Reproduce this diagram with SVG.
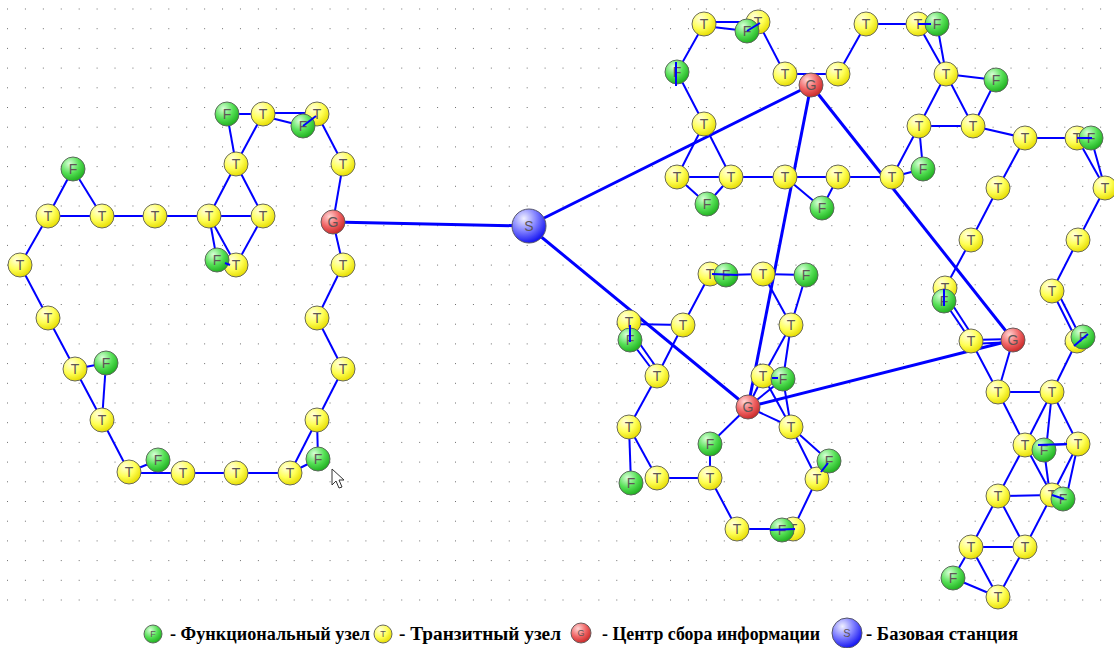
<svg xmlns="http://www.w3.org/2000/svg" width="1114" height="648" viewBox="0 0 1114 648">
<defs>
<pattern id="grid" x="7" y="8.5" width="17.92" height="19.7" patternUnits="userSpaceOnUse"><rect x="0" y="0" width="1" height="1" fill="#6e6e6e"/></pattern>
<radialGradient id="gy" cx="35%" cy="28%" r="75%"><stop offset="0" stop-color="#ffffdd"/><stop offset="0.55" stop-color="#ffff55"/><stop offset="1" stop-color="#e6dc00"/></radialGradient>
<radialGradient id="gf" cx="35%" cy="28%" r="75%"><stop offset="0" stop-color="#d8ffd8"/><stop offset="0.55" stop-color="#55e055"/><stop offset="1" stop-color="#1fae1f"/></radialGradient>
<radialGradient id="gg" cx="35%" cy="28%" r="75%"><stop offset="0" stop-color="#ffd6d6"/><stop offset="0.55" stop-color="#f06464"/><stop offset="1" stop-color="#c82828"/></radialGradient>
<radialGradient id="gs" cx="35%" cy="28%" r="75%"><stop offset="0" stop-color="#f0f0ff"/><stop offset="0.5" stop-color="#8080ff"/><stop offset="1" stop-color="#1010f0"/></radialGradient>
</defs>
<style>
.e{stroke:#0000ff;stroke-width:2;fill:none}
.k{stroke:#0000ff;stroke-width:3;fill:none}
.t{fill:url(#gy);stroke:#6a6a5a;stroke-width:1}
.f{fill:url(#gf);stroke:#5a6a5a;stroke-width:1}
.g{fill:url(#gg);stroke:#6a5a5a;stroke-width:1}
.s{fill:url(#gs);stroke:#55556a;stroke-width:1}
.l{font-family:"Liberation Sans",Arial,sans-serif;font-size:14px;fill:#5e5656;text-anchor:middle}
.ls{font-family:"Liberation Sans",Arial,sans-serif;font-size:9px;fill:#5e5656;text-anchor:middle}
.lg{font-family:"Liberation Serif","Times New Roman",serif;font-size:18px;font-weight:bold;fill:#000}
</style>
<rect width="1114" height="648" fill="#ffffff"/>
<rect x="0" y="0" width="1114" height="608" fill="url(#grid)"/>

<g id="connectors">
<!-- left cluster -->
<line class="e" x1="73" y1="169" x2="48" y2="216"/>
<line class="e" x1="73" y1="169" x2="102" y2="216"/>
<line class="e" x1="48" y1="216" x2="102" y2="216"/>
<line class="e" x1="102" y1="216" x2="155" y2="216"/>
<line class="e" x1="155" y1="216" x2="209" y2="216"/>
<line class="e" x1="209" y1="216" x2="263" y2="216"/>
<line class="e" x1="209" y1="216" x2="236" y2="164"/>
<line class="e" x1="263" y1="216" x2="236" y2="164"/>
<line class="e" x1="236" y1="164" x2="263" y2="114"/>
<line class="e" x1="236" y1="164" x2="227" y2="114"/>
<line class="e" x1="227" y1="114" x2="263" y2="114"/>
<line class="e" x1="263" y1="113" x2="317" y2="113"/>
<line class="e" x1="263" y1="116" x2="303" y2="126"/>
<line class="e" x1="317" y1="114" x2="343" y2="164"/>
<line class="e" x1="343" y1="164" x2="333" y2="222"/>
<line class="e" x1="333" y1="222" x2="343" y2="265"/>
<line class="e" x1="263" y1="216" x2="236" y2="265"/>
<line class="e" x1="209" y1="216" x2="217" y2="260"/>
<line class="e" x1="209" y1="216" x2="236" y2="265"/>
<line class="e" x1="48" y1="216" x2="20" y2="265"/>
<line class="e" x1="20" y1="265" x2="48" y2="318"/>
<line class="e" x1="48" y1="318" x2="75" y2="369"/>
<line class="e" x1="75" y1="369" x2="106" y2="363"/>
<line class="e" x1="106" y1="363" x2="102" y2="420"/>
<line class="e" x1="75" y1="369" x2="102" y2="420"/>
<line class="e" x1="102" y1="420" x2="129" y2="472"/>
<line class="e" x1="129" y1="472" x2="158" y2="460"/>
<line class="e" x1="129" y1="473" x2="183" y2="473"/>
<line class="e" x1="183" y1="473" x2="236" y2="473"/>
<line class="e" x1="236" y1="473" x2="290" y2="473"/>
<line class="e" x1="290" y1="473" x2="318" y2="459"/>
<line class="e" x1="290" y1="473" x2="317" y2="420"/>
<line class="e" x1="318" y1="459" x2="317" y2="420"/>
<line class="e" x1="317" y1="420" x2="343" y2="369"/>
<line class="e" x1="343" y1="369" x2="317" y2="318"/>
<line class="e" x1="317" y1="318" x2="343" y2="265"/>
<!-- thick links -->
<line class="k" x1="333" y1="222" x2="528" y2="226"/>
<line class="k" x1="528" y1="226" x2="811" y2="85"/>
<line class="k" x1="528" y1="226" x2="748" y2="407"/>
<line class="k" x1="811" y1="85" x2="748" y2="407"/>
<line class="k" x1="811" y1="85" x2="1013" y2="340"/>
<line class="k" x1="748" y1="407" x2="1013" y2="340"/>
<!-- top middle -->
<line class="e" x1="704" y1="22" x2="758" y2="22"/>
<line class="e" x1="704" y1="26" x2="747" y2="31"/>
<line class="e" x1="704" y1="24" x2="677" y2="72"/>
<line class="e" x1="677" y1="72" x2="704" y2="124"/>
<line class="e" x1="758" y1="22" x2="785" y2="74"/>
<line class="e" x1="785" y1="74" x2="838" y2="74"/>
<line class="e" x1="838" y1="74" x2="866" y2="24"/>
<line class="e" x1="866" y1="24" x2="918" y2="24"/>
<line class="e" x1="704" y1="124" x2="677" y2="177"/>
<line class="e" x1="704" y1="124" x2="731" y2="177"/>
<line class="e" x1="677" y1="177" x2="731" y2="177"/>
<line class="e" x1="677" y1="177" x2="707" y2="204"/>
<line class="e" x1="731" y1="177" x2="707" y2="204"/>
<line class="e" x1="731" y1="177" x2="785" y2="177"/>
<line class="e" x1="785" y1="177" x2="838" y2="177"/>
<line class="e" x1="785" y1="177" x2="822" y2="208"/>
<line class="e" x1="838" y1="177" x2="822" y2="208"/>
<line class="e" x1="838" y1="177" x2="892" y2="177"/>
<!-- top right -->
<line class="e" x1="918" y1="24" x2="946" y2="74"/>
<line class="e" x1="937" y1="24" x2="946" y2="74"/>
<line class="e" x1="946" y1="74" x2="996" y2="80"/>
<line class="e" x1="946" y1="74" x2="919" y2="126"/>
<line class="e" x1="946" y1="74" x2="973" y2="126"/>
<line class="e" x1="996" y1="80" x2="973" y2="126"/>
<line class="e" x1="919" y1="126" x2="973" y2="126"/>
<line class="e" x1="919" y1="126" x2="892" y2="177"/>
<line class="e" x1="919" y1="126" x2="923" y2="169"/>
<line class="e" x1="923" y1="169" x2="892" y2="177"/>
<line class="e" x1="973" y1="126" x2="1025" y2="138"/>
<line class="e" x1="1025" y1="138" x2="1077" y2="138"/>
<line class="e" x1="1077" y1="138" x2="1105" y2="188"/>
<line class="e" x1="1091" y1="138" x2="1105" y2="188"/>
<line class="e" x1="1025" y1="138" x2="998" y2="188"/>
<line class="e" x1="998" y1="188" x2="971" y2="240"/>
<line class="e" x1="971" y1="240" x2="945" y2="288"/>
<line class="e" x1="944" y1="301" x2="971" y2="341"/>
<line class="e" x1="948" y1="298" x2="974" y2="338"/>
<line class="e" x1="971" y1="340" x2="1013" y2="339"/>
<line class="e" x1="971" y1="344" x2="1013" y2="342"/>
<line class="e" x1="971" y1="341" x2="998" y2="392"/>
<line class="e" x1="1013" y1="340" x2="998" y2="392"/>
<line class="e" x1="998" y1="392" x2="1052" y2="392"/>
<line class="e" x1="1052" y1="392" x2="1077" y2="341"/>
<line class="e" x1="1077" y1="341" x2="1052" y2="291"/>
<line class="e" x1="1081" y1="338" x2="1056" y2="289"/>
<line class="e" x1="1052" y1="291" x2="1078" y2="240"/>
<line class="e" x1="1078" y1="240" x2="1105" y2="188"/>
<!-- bottom right -->
<line class="e" x1="998" y1="392" x2="1025" y2="445"/>
<line class="e" x1="1052" y1="392" x2="1025" y2="445"/>
<line class="e" x1="1052" y1="392" x2="1046" y2="450"/>
<line class="e" x1="1052" y1="392" x2="1078" y2="444"/>
<line class="e" x1="1044" y1="445" x2="1078" y2="444"/>
<line class="e" x1="1025" y1="445" x2="998" y2="496"/>
<line class="e" x1="1025" y1="445" x2="1052" y2="495"/>
<line class="e" x1="1044" y1="450" x2="1050" y2="495"/>
<line class="e" x1="1078" y1="444" x2="1052" y2="495"/>
<line class="e" x1="1078" y1="444" x2="1066" y2="499"/>
<line class="e" x1="998" y1="496" x2="1052" y2="495"/>
<line class="e" x1="998" y1="496" x2="971" y2="547"/>
<line class="e" x1="998" y1="496" x2="1025" y2="547"/>
<line class="e" x1="1052" y1="495" x2="1025" y2="547"/>
<line class="e" x1="971" y1="547" x2="1025" y2="547"/>
<line class="e" x1="971" y1="547" x2="953" y2="578"/>
<line class="e" x1="971" y1="547" x2="998" y2="597"/>
<line class="e" x1="953" y1="578" x2="998" y2="597"/>
<line class="e" x1="1025" y1="547" x2="998" y2="597"/>
<!-- middle cluster -->
<line class="e" x1="726" y1="275" x2="763" y2="274"/>
<line class="e" x1="763" y1="274" x2="806" y2="275"/>
<line class="e" x1="710" y1="274" x2="683" y2="325"/>
<line class="e" x1="629" y1="324" x2="683" y2="325"/>
<line class="e" x1="630" y1="340" x2="657" y2="376"/>
<line class="e" x1="635" y1="337" x2="661" y2="374"/>
<line class="e" x1="683" y1="325" x2="657" y2="376"/>
<line class="e" x1="657" y1="376" x2="629" y2="427"/>
<line class="e" x1="629" y1="427" x2="631" y2="483"/>
<line class="e" x1="629" y1="427" x2="657" y2="478"/>
<line class="e" x1="657" y1="478" x2="710" y2="478"/>
<line class="e" x1="710" y1="478" x2="710" y2="444"/>
<line class="e" x1="710" y1="444" x2="748" y2="407"/>
<line class="e" x1="710" y1="478" x2="737" y2="529"/>
<line class="e" x1="737" y1="529" x2="793" y2="529"/>
<line class="e" x1="793" y1="529" x2="817" y2="479"/>
<line class="e" x1="791" y1="427" x2="829" y2="461"/>
<line class="e" x1="791" y1="427" x2="817" y2="479"/>
<line class="e" x1="791" y1="427" x2="748" y2="407"/>
<line class="e" x1="791" y1="427" x2="783" y2="379"/>
<line class="e" x1="763" y1="376" x2="791" y2="427"/>
<line class="e" x1="763" y1="376" x2="748" y2="407"/>
<line class="e" x1="783" y1="379" x2="748" y2="407"/>
<line class="e" x1="791" y1="325" x2="763" y2="376"/>
<line class="e" x1="791" y1="325" x2="783" y2="379"/>
<line class="e" x1="806" y1="275" x2="791" y2="325"/>
<line class="e" x1="763" y1="274" x2="791" y2="325"/>
</g>

<g id="L22"><circle class="f" cx="158" cy="460" r="12"/><text class="l" x="158" y="465">F</text></g>
<g id="L2"><circle class="t" cx="48" cy="216" r="12"/><text class="l" x="48" y="221">T</text></g>
<g id="L3"><circle class="t" cx="102" cy="216" r="12"/><text class="l" x="102" y="221">T</text></g>
<g id="L4"><circle class="t" cx="155" cy="216" r="12"/><text class="l" x="155" y="221">T</text></g>
<g id="L5"><circle class="t" cx="209" cy="216" r="12"/><text class="l" x="209" y="221">T</text></g>
<g id="L6"><circle class="t" cx="263" cy="216" r="12"/><text class="l" x="263" y="221">T</text></g>
<g id="L7"><circle class="t" cx="236" cy="164" r="12"/><text class="l" x="236" y="169">T</text></g>
<g id="L9"><circle class="t" cx="263" cy="114" r="12"/><text class="l" x="263" y="119">T</text></g>
<g id="L10"><circle class="t" cx="317" cy="114" r="12"/><text class="l" x="317" y="119">T</text></g>
<g id="L12"><circle class="t" cx="343" cy="164" r="12"/><text class="l" x="343" y="169">T</text></g>
<g id="L13"><circle class="t" cx="343" cy="265" r="12"/><text class="l" x="343" y="270">T</text></g>
<g id="L15"><circle class="t" cx="236" cy="265" r="12"/><text class="l" x="236" y="270">T</text></g>
<g id="L16"><circle class="t" cx="20" cy="265" r="12"/><text class="l" x="20" y="270">T</text></g>
<g id="L17"><circle class="t" cx="48" cy="318" r="12"/><text class="l" x="48" y="323">T</text></g>
<g id="L18"><circle class="t" cx="75" cy="369" r="12"/><text class="l" x="75" y="374">T</text></g>
<g id="L20"><circle class="t" cx="102" cy="420" r="12"/><text class="l" x="102" y="425">T</text></g>
<g id="L21"><circle class="t" cx="129" cy="472" r="12"/><text class="l" x="129" y="477">T</text></g>
<g id="L23"><circle class="t" cx="183" cy="473" r="12"/><text class="l" x="183" y="478">T</text></g>
<g id="L24"><circle class="t" cx="236" cy="473" r="12"/><text class="l" x="236" y="478">T</text></g>
<g id="L25"><circle class="t" cx="290" cy="473" r="12"/><text class="l" x="290" y="478">T</text></g>
<g id="L27"><circle class="t" cx="317" cy="420" r="12"/><text class="l" x="317" y="425">T</text></g>
<g id="L28"><circle class="t" cx="343" cy="369" r="12"/><text class="l" x="343" y="374">T</text></g>
<g id="L29"><circle class="t" cx="317" cy="318" r="12"/><text class="l" x="317" y="323">T</text></g>

<g id="A1"><circle class="t" cx="704" cy="24" r="12"/><text class="l" x="704" y="29">T</text></g>
<g id="A2"><circle class="t" cx="758" cy="22" r="12"/><text class="l" x="758" y="27">T</text></g>
<g id="A5"><circle class="t" cx="785" cy="74" r="12"/><text class="l" x="785" y="79">T</text></g>
<g id="A6"><circle class="t" cx="838" cy="74" r="12"/><text class="l" x="838" y="79">T</text></g>
<g id="A7"><circle class="t" cx="866" cy="24" r="12"/><text class="l" x="866" y="29">T</text></g>
<g id="A8"><circle class="t" cx="704" cy="124" r="12"/><text class="l" x="704" y="129">T</text></g>
<g id="A9"><circle class="t" cx="677" cy="177" r="12"/><text class="l" x="677" y="182">T</text></g>
<g id="A10"><circle class="t" cx="731" cy="177" r="12"/><text class="l" x="731" y="182">T</text></g>
<g id="A12"><circle class="t" cx="785" cy="177" r="12"/><text class="l" x="785" y="182">T</text></g>
<g id="A13"><circle class="t" cx="838" cy="177" r="12"/><text class="l" x="838" y="182">T</text></g>
<g id="A15"><circle class="t" cx="892" cy="177" r="12"/><text class="l" x="892" y="182">T</text></g>

<g id="B1"><circle class="t" cx="918" cy="24" r="12"/><text class="l" x="918" y="29">T</text></g>
<g id="B3"><circle class="t" cx="946" cy="74" r="12"/><text class="l" x="946" y="79">T</text></g>
<g id="B5"><circle class="t" cx="919" cy="126" r="12"/><text class="l" x="919" y="131">T</text></g>
<g id="B6"><circle class="t" cx="973" cy="126" r="12"/><text class="l" x="973" y="131">T</text></g>
<g id="B8"><circle class="t" cx="1025" cy="138" r="12"/><text class="l" x="1025" y="143">T</text></g>
<g id="B9"><circle class="t" cx="1077" cy="138" r="12"/><text class="l" x="1077" y="143">T</text></g>
<g id="B11"><circle class="t" cx="998" cy="188" r="12"/><text class="l" x="998" y="193">T</text></g>
<g id="B12"><circle class="t" cx="1105" cy="188" r="12"/><text class="l" x="1105" y="193">T</text></g>
<g id="B13"><circle class="t" cx="971" cy="240" r="12"/><text class="l" x="971" y="245">T</text></g>
<g id="B14"><circle class="t" cx="1078" cy="240" r="12"/><text class="l" x="1078" y="245">T</text></g>
<g id="B15"><circle class="t" cx="945" cy="288" r="12"/><text class="l" x="945" y="293">T</text></g>
<g id="B17"><circle class="t" cx="1052" cy="291" r="12"/><text class="l" x="1052" y="296">T</text></g>
<g id="B18"><circle class="t" cx="971" cy="341" r="12"/><text class="l" x="971" y="346">T</text></g>
<g id="B19"><circle class="t" cx="1077" cy="341" r="12"/><text class="l" x="1077" y="346">T</text></g>
<g id="B21"><circle class="t" cx="998" cy="392" r="12"/><text class="l" x="998" y="397">T</text></g>
<g id="B22"><circle class="t" cx="1052" cy="392" r="12"/><text class="l" x="1052" y="397">T</text></g>

<g id="C1"><circle class="t" cx="1025" cy="445" r="12"/><text class="l" x="1025" y="450">T</text></g>
<g id="C3"><circle class="t" cx="1078" cy="444" r="12"/><text class="l" x="1078" y="449">T</text></g>
<g id="C4"><circle class="t" cx="998" cy="496" r="12"/><text class="l" x="998" y="501">T</text></g>
<g id="C5"><circle class="t" cx="1052" cy="495" r="12"/><text class="l" x="1052" y="500">T</text></g>
<g id="C7"><circle class="t" cx="971" cy="547" r="12"/><text class="l" x="971" y="552">T</text></g>
<g id="C8"><circle class="t" cx="1025" cy="547" r="12"/><text class="l" x="1025" y="552">T</text></g>
<g id="C10"><circle class="t" cx="998" cy="597" r="12"/><text class="l" x="998" y="602">T</text></g>

<g id="D1"><circle class="t" cx="710" cy="274" r="12"/><text class="l" x="710" y="279">T</text></g>
<g id="D3"><circle class="t" cx="763" cy="274" r="12"/><text class="l" x="763" y="279">T</text></g>
<g id="D5"><circle class="t" cx="629" cy="322" r="12"/><text class="l" x="629" y="327">T</text></g>
<g id="D7"><circle class="t" cx="683" cy="325" r="12"/><text class="l" x="683" y="330">T</text></g>
<g id="D8"><circle class="t" cx="791" cy="325" r="12"/><text class="l" x="791" y="330">T</text></g>
<g id="D9"><circle class="t" cx="657" cy="376" r="12"/><text class="l" x="657" y="381">T</text></g>
<g id="D10"><circle class="t" cx="763" cy="376" r="12"/><text class="l" x="763" y="381">T</text></g>
<g id="D12"><circle class="t" cx="629" cy="427" r="12"/><text class="l" x="629" y="432">T</text></g>
<g id="D13"><circle class="t" cx="791" cy="427" r="12"/><text class="l" x="791" y="432">T</text></g>
<g id="D16"><circle class="t" cx="657" cy="478" r="12"/><text class="l" x="657" y="483">T</text></g>
<g id="D17"><circle class="t" cx="710" cy="478" r="12"/><text class="l" x="710" y="483">T</text></g>
<g id="D19"><circle class="t" cx="817" cy="479" r="12"/><text class="l" x="817" y="484">T</text></g>
<g id="D20"><circle class="t" cx="737" cy="529" r="12"/><text class="l" x="737" y="534">T</text></g>
<g id="D22"><circle class="t" cx="793" cy="529" r="12"/><text class="l" x="793" y="534">T</text></g>

<g id="L1"><circle class="f" cx="73" cy="169" r="12"/><text class="l" x="73" y="174">F</text></g>
<g id="L8"><circle class="f" cx="227" cy="114" r="12"/><text class="l" x="227" y="119">F</text></g>
<g id="L11"><circle class="f" cx="303" cy="126" r="12"/><text class="l" x="303" y="131">F</text><line class="e" x1="303" y1="126" x2="316" y2="116"/></g>
<g id="L14"><circle class="f" cx="217" cy="260" r="12"/><text class="l" x="217" y="265">F</text><line class="e" x1="225" y1="263" x2="230" y2="265"/></g>
<g id="L19"><circle class="f" cx="106" cy="363" r="12"/><text class="l" x="106" y="368">F</text></g>
<g id="L26"><circle class="f" cx="318" cy="459" r="12"/><text class="l" x="318" y="464">F</text></g>
<g id="A3"><circle class="f" cx="747" cy="31" r="12"/><text class="l" x="747" y="36">F</text><line class="e" x1="747" y1="31" x2="760" y2="23"/></g>
<g id="A4"><circle class="f" cx="677" cy="72" r="12"/><text class="l" x="677" y="77">F</text><line class="e" x1="676" y1="62" x2="676" y2="86"/></g>
<g id="A11"><circle class="f" cx="707" cy="204" r="12"/><text class="l" x="707" y="209">F</text></g>
<g id="A14"><circle class="f" cx="822" cy="208" r="12"/><text class="l" x="822" y="213">F</text></g>
<g id="B2"><circle class="f" cx="937" cy="24" r="12"/><text class="l" x="937" y="29">F</text><line class="e" x1="918" y1="24" x2="931" y2="24"/></g>
<g id="B4"><circle class="f" cx="996" cy="80" r="12"/><text class="l" x="996" y="85">F</text></g>
<g id="B7"><circle class="f" cx="923" cy="169" r="12"/><text class="l" x="923" y="174">F</text></g>
<g id="B10"><circle class="f" cx="1091" cy="138" r="12"/><text class="l" x="1091" y="143">F</text><line class="e" x1="1077" y1="138" x2="1092" y2="138"/></g>
<g id="B16"><circle class="f" cx="944" cy="301" r="12"/><text class="l" x="944" y="306">F</text><line class="e" x1="944" y1="289" x2="944" y2="306"/></g>
<g id="B20"><circle class="f" cx="1083" cy="337" r="12"/><text class="l" x="1083" y="342">F</text><line class="e" x1="1074" y1="346" x2="1088" y2="334"/></g>
<g id="C2"><circle class="f" cx="1044" cy="450" r="12"/><text class="l" x="1044" y="455">F</text><line class="e" x1="1038" y1="445" x2="1067" y2="444"/></g>
<g id="C6"><circle class="f" cx="1063" cy="499" r="12"/><text class="l" x="1063" y="504">F</text><line class="e" x1="1052" y1="495" x2="1064" y2="499"/></g>
<g id="C9"><circle class="f" cx="953" cy="578" r="12"/><text class="l" x="953" y="583">F</text></g>
<g id="D2"><circle class="f" cx="726" cy="275" r="12"/><text class="l" x="726" y="280">F</text><line class="e" x1="712" y1="274" x2="738" y2="275"/></g>
<g id="D4"><circle class="f" cx="806" cy="275" r="12"/><text class="l" x="806" y="280">F</text></g>
<g id="D6"><circle class="f" cx="630" cy="340" r="12"/><text class="l" x="630" y="345">F</text><line class="e" x1="630" y1="325" x2="630" y2="342"/></g>
<g id="D11"><circle class="f" cx="783" cy="379" r="12"/><text class="l" x="783" y="384">F</text><line class="e" x1="772" y1="378" x2="778" y2="378"/></g>
<g id="D14"><circle class="f" cx="710" cy="444" r="12"/><text class="l" x="710" y="449">F</text></g>
<g id="D15"><circle class="f" cx="631" cy="483" r="12"/><text class="l" x="631" y="488">F</text></g>
<g id="D18"><circle class="f" cx="829" cy="461" r="12"/><text class="l" x="829" y="466">F</text><line class="e" x1="821" y1="472" x2="828" y2="463"/></g>
<g id="D21"><circle class="f" cx="782" cy="530" r="12"/><text class="l" x="782" y="535">F</text><line class="e" x1="770" y1="530" x2="795" y2="529"/></g>

<g id="G1"><circle class="g" cx="333" cy="222" r="12"/><text class="l" x="333" y="227">G</text></g>
<g id="G2"><circle class="g" cx="811" cy="85" r="12"/><text class="l" x="811" y="90">G</text></g>
<g id="G3"><circle class="g" cx="748" cy="407" r="12"/><text class="l" x="748" y="412">G</text></g>
<g id="G4"><circle class="g" cx="1013" cy="340" r="12"/><text class="l" x="1013" y="345">G</text></g>
<g id="S"><circle class="s" cx="529" cy="226" r="17"/><text class="l" x="529" y="231">S</text></g>

<g id="cursor"><path d="M332 469 L332 485 L336 481 L339 488 L342 487 L339 480 L344 480 Z" fill="#ffffff" stroke="#333" stroke-width="1"/></g>

<g id="legend">
<circle class="f" cx="153" cy="634" r="9"/><text class="ls" x="153" y="637">F</text>
<text class="lg" x="170" y="640" textLength="200" lengthAdjust="spacingAndGlyphs">- Функциональный узел</text>
<circle class="t" cx="383" cy="634" r="9"/><text class="ls" x="383" y="637">T</text>
<text class="lg" x="399" y="640" textLength="162" lengthAdjust="spacingAndGlyphs">- Транзитный узел</text>
<circle class="g" cx="581" cy="633" r="10"/><text class="ls" x="581" y="636">G</text>
<text class="lg" x="602" y="640" textLength="218" lengthAdjust="spacingAndGlyphs">- Центр сбора информации</text>
<circle class="s" cx="847" cy="633" r="15"/><text class="ls" x="847" y="637" style="font-size:11px">S</text>
<text class="lg" x="866" y="640" textLength="152" lengthAdjust="spacingAndGlyphs">- Базовая станция</text>
</g>
</svg>
